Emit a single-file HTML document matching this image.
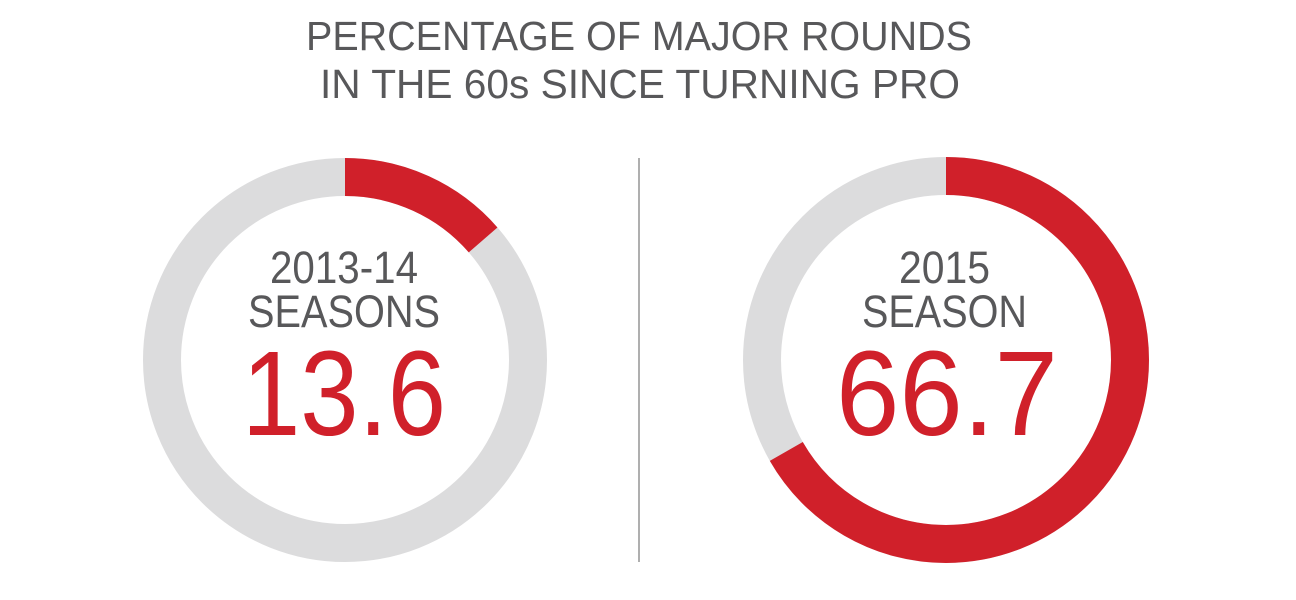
<!DOCTYPE html>
<html><head><meta charset="utf-8"><style>
html,body{margin:0;padding:0;background:#fff;}
svg{display:block;}
text{font-family:"Liberation Sans",sans-serif;}
</style></head><body>
<svg width="1296" height="600" viewBox="0 0 1296 600" xmlns="http://www.w3.org/2000/svg">
<g fill="#58585a" font-size="41" text-anchor="start">
<text x="306" y="50" textLength="666" lengthAdjust="spacingAndGlyphs">PERCENTAGE OF MAJOR ROUNDS</text>
<text x="320" y="98" textLength="640" lengthAdjust="spacingAndGlyphs">IN THE 60s SINCE TURNING PRO</text>
</g>
<line x1="639" y1="158" x2="639" y2="562" stroke="#7a7a7a" stroke-width="1.2"/>
<!-- left donut -->
<circle cx="345" cy="360" r="183" fill="none" stroke="#dcdcdd" stroke-width="38"/>
<circle cx="345" cy="360" r="183" fill="none" stroke="#d0202a" stroke-width="38"
 stroke-dasharray="156.4 2000" transform="rotate(-90 345 360)"/>
<!-- right donut -->
<circle cx="946" cy="360" r="184" fill="none" stroke="#dcdcdd" stroke-width="38"/>
<circle cx="946" cy="360" r="184" fill="none" stroke="#d0202a" stroke-width="38"
 stroke-dasharray="771.1 2000" transform="rotate(-90 946 360)"/>
<g fill="#58585a" font-size="45">
<text x="270" y="283" textLength="148" lengthAdjust="spacingAndGlyphs">2013-14</text>
<text x="248" y="327" textLength="192" lengthAdjust="spacingAndGlyphs">SEASONS</text>
<text x="899" y="283" textLength="91" lengthAdjust="spacingAndGlyphs">2015</text>
<text x="862" y="327" textLength="165" lengthAdjust="spacingAndGlyphs">SEASON</text>
</g>
<g fill="#d0202a" font-size="121">
<text x="242" y="435" textLength="204" lengthAdjust="spacingAndGlyphs">13.6</text>
<text x="836" y="435" textLength="222" lengthAdjust="spacingAndGlyphs">66.7</text>
</g>
</svg>
</body></html>
